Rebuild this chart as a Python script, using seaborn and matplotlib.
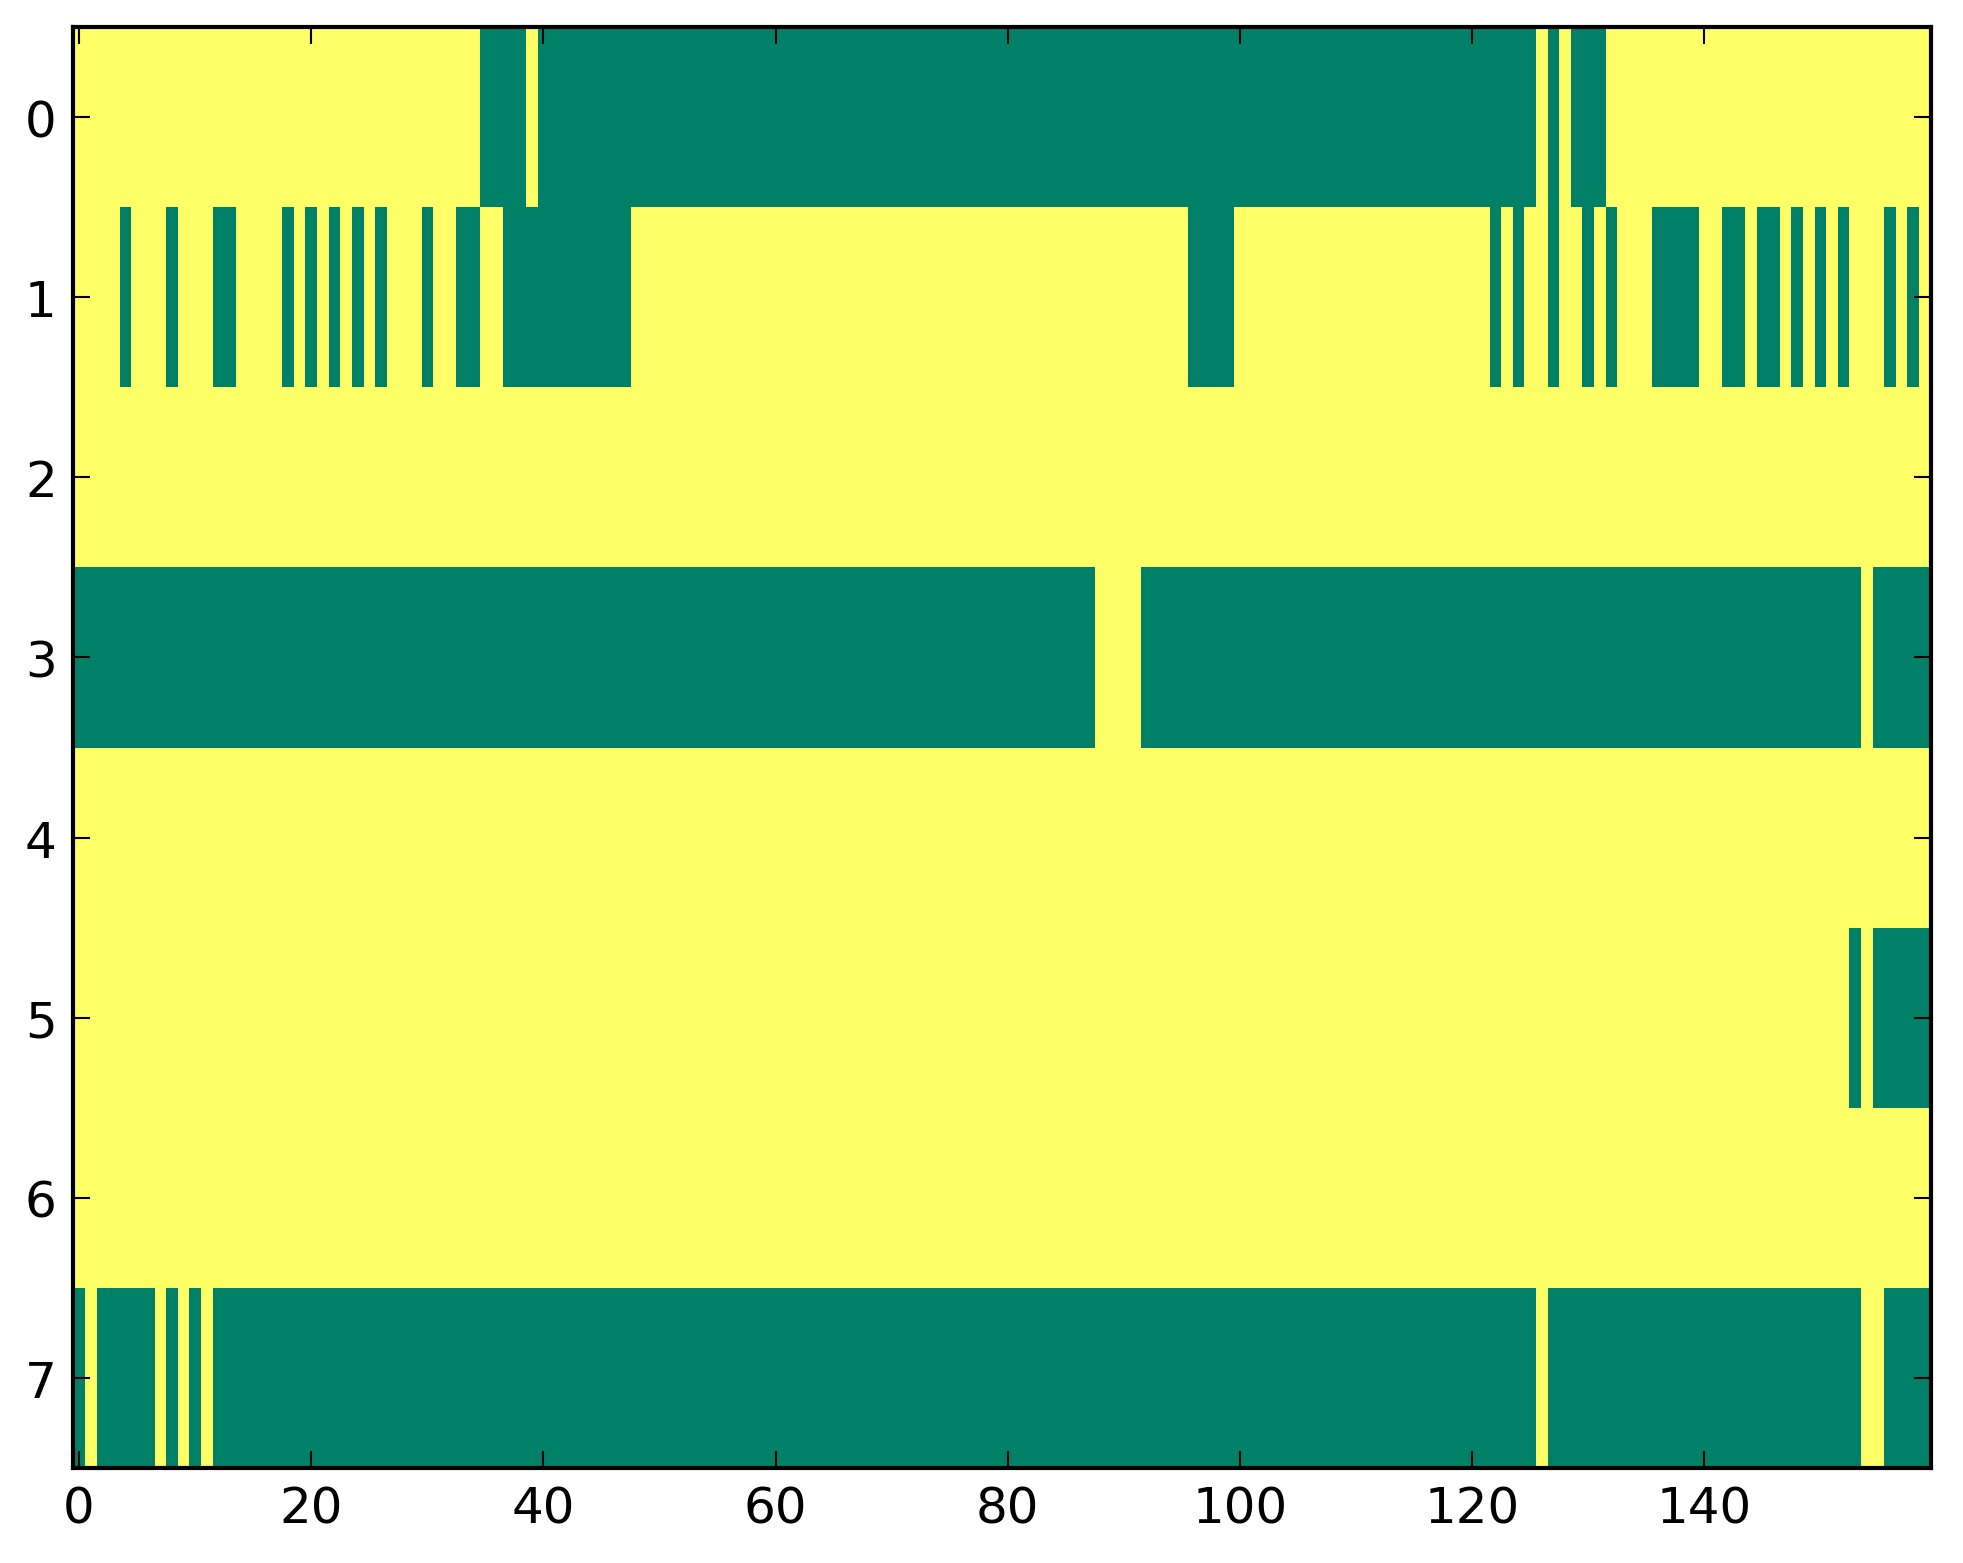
import numpy as np
import pandas as pd
import matplotlib
matplotlib.use("Agg")
import matplotlib.pyplot as plt
import seaborn as sns

# ---- data: 8 rows x 160 columns of 0/1; listed as runs of 0 (green) cells, inclusive ----
n_cols = 160
row_labels = [0, 1, 2, 3, 4, 5, 6, 7]
x_tick_values = [0, 20, 40, 60, 80, 100, 120, 140]

row0_zero_runs = [(35, 38), (40, 125), (127, 127), (129, 131)]
row1_zero_runs = [(4, 4), (8, 8), (12, 13), (18, 18), (20, 20), (22, 22), (24, 24),
                  (26, 26), (30, 30), (33, 34), (37, 47), (96, 99), (122, 122),
                  (124, 124), (127, 127), (130, 130), (132, 132), (136, 139),
                  (142, 143), (145, 146), (148, 148), (150, 150), (152, 152),
                  (156, 156), (158, 158)]
row2_zero_runs = []
row3_zero_runs = [(0, 87), (92, 153), (155, 159)]
row4_zero_runs = []
row5_zero_runs = [(153, 153), (155, 159)]
row6_zero_runs = []
row7_zero_runs = [(0, 0), (2, 6), (8, 8), (10, 10), (12, 125), (127, 153), (156, 159)]

all_runs = [row0_zero_runs, row1_zero_runs, row2_zero_runs, row3_zero_runs,
            row4_zero_runs, row5_zero_runs, row6_zero_runs, row7_zero_runs]

mat = np.ones((len(row_labels), n_cols))
for r, runs in enumerate(all_runs):
    for a, b in runs:
        mat[r, a:b + 1] = 0
df = pd.DataFrame(mat, index=row_labels, columns=range(n_cols))

# ---- style ----
sns.set_style("white")
plt.rcParams["font.family"] = ["DejaVu Sans"]
plt.rcParams["axes.axisbelow"] = False

W, H, DPI = 1963, 1564, 300
fig = plt.figure(figsize=(W / DPI, H / DPI), dpi=DPI)
fig.patch.set_facecolor("white")
left, right, top, bottom = 73.3, 1930.7, 28.0, 1469.0
ax = fig.add_axes([left / W, 1 - bottom / H, (right - left) / W, (bottom - top) / H])

sns.heatmap(df, cmap="summer", vmin=0, vmax=1, cbar=False, ax=ax,
            xticklabels=False, yticklabels=False, linewidths=0)
ax.set_axisbelow(False)

for s in ax.spines.values():
    s.set_visible(True)
    s.set_linewidth(1.0)
    s.set_color("black")
    s.set_zorder(5)

ax.set_xticks(np.array(x_tick_values) + 0.5)
ax.set_xticklabels([str(v) for v in x_tick_values], rotation=0)
ax.set_yticks(np.array(row_labels) + 0.5)
ax.set_yticklabels([str(v) for v in row_labels], rotation=0)
ax.tick_params(direction="in", top=True, right=True, bottom=True, left=True,
               length=4, width=0.5, labelsize=12, pad=4, colors="black")
ax.xaxis.set_zorder(4)
ax.yaxis.set_zorder(4)
ax.set_xlabel("")
ax.set_ylabel("")

fig.savefig("out.png", dpi=DPI)
